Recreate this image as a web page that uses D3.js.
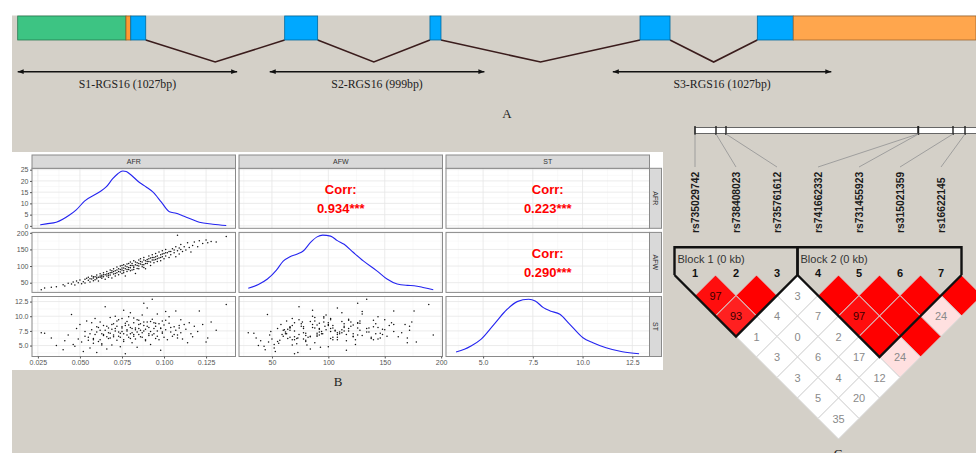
<!DOCTYPE html>
<html>
<head>
<meta charset="utf-8">
<script src="https://cdn.jsdelivr.net/npm/d3@7"></script>
<style>
  body { margin: 0; background: #fff; }
  svg { display: block; font-family: "Liberation Sans", Arial, sans-serif; }
</style>
</head>
<body>
<svg width="976" height="453"></svg>
<script>
// ---- A: gene model (arbitrary 0-1000 coordinate along RGS16) ----
const exonStart = [0, 113, 118, 278.6, 430.2, 649.4, 771.8, 809.3];
const exonEnd   = [113, 118, 133.6, 313, 441.7, 680.7, 809.3, 1000];
const exonKind  = ["utr5", "start", "cds", "cds", "cds", "cds", "cds", "utr3"];

const ampliconNames = ["S1-RGS16 (1027bp)", "S2-RGS16 (999bp)", "S3-RGS16 (1027bp)"];
const ampliconStart = [0, 263, 621];
const ampliconEnd   = [229, 487, 849];

// ---- B: trait data (one value per individual) ----
const traits = ["AFR", "AFW", "ST"];
const afr = [
  0.027,0.029,0.033,0.036,0.040,0.041,0.043,0.045,0.046,0.047,
  0.048,0.049,0.050,0.051,0.052,0.053,0.053,0.054,0.055,0.055,
  0.056,0.057,0.057,0.058,0.058,0.059,0.059,0.060,0.060,0.061,
  0.061,0.062,0.062,0.063,0.063,0.064,0.064,0.065,0.065,0.066,
  0.066,0.067,0.067,0.068,0.068,0.069,0.069,0.070,0.070,0.071,
  0.071,0.072,0.072,0.073,0.073,0.074,0.074,0.075,0.075,0.076,
  0.076,0.077,0.077,0.078,0.078,0.079,0.079,0.080,0.080,0.081,
  0.081,0.082,0.082,0.083,0.083,0.084,0.084,0.085,0.085,0.086,
  0.086,0.087,0.087,0.088,0.088,0.089,0.089,0.090,0.090,0.091,
  0.091,0.092,0.092,0.093,0.093,0.094,0.094,0.095,0.095,0.096,
  0.096,0.097,0.097,0.098,0.098,0.099,0.099,0.100,0.100,0.101,
  0.101,0.102,0.103,0.103,0.104,0.105,0.106,0.107,0.107,0.108,
  0.108,0.109,0.110,0.110,0.111,0.112,0.113,0.114,0.115,0.116,
  0.117,0.118,0.120,0.121,0.123,0.125,0.126,0.128,0.131,0.137,
  0.062,0.064,0.066,0.067,0.068,0.069,0.070,0.071,0.072,0.073,
  0.074,0.075,0.075,0.076,0.076,0.077,0.078,0.078,0.079,0.080,
  0.080,0.081,0.082,0.082,0.083,0.084,0.085,0.085,0.086,0.087,
  0.088,0.088,0.089,0.090,0.091,0.092,0.093,0.094,0.095,0.096,
  0.098,0.099,0.101,0.104,0.106,0.109,0.056,0.058,0.060,0.063
];
const afw = [
  29,34,36,38,44,40,48,46,52,43,
  55,50,58,47,53,60,49,63,57,66,
  52,61,70,56,64,68,59,73,62,66,
  55,70,77,63,72,68,80,60,74,70,
  84,66,78,88,73,81,64,76,92,86,
  70,80,97,84,74,90,100,78,94,86,
  104,92,70,98,84,108,90,95,112,88,
  102,96,116,104,78,110,93,100,118,106,
  122,98,112,126,104,116,92,120,108,130,
  114,102,124,118,134,110,126,138,120,114,
  130,142,124,134,116,128,146,122,138,130,
  150,140,126,144,134,152,140,128,158,146,
  193,136,150,165,144,158,148,170,156,142,
  162,172,158,176,168,178,170,174,172,189,
  66,74,76,72,80,86,84,78,88,92,
  82,88,102,94,80,100,90,106,96,102,
  86,108,100,90,112,102,108,92,114,104,
  118,96,108,114,122,112,126,118,128,122,
  126,136,140,144,148,154,62,68,66,68
];
const st = [
  7.2,7.1,6.3,5.0,4.3,5.8,6.8,10.3,5.2,4.9,
  7.9,6.1,8.6,5.6,4.0,6.6,7.4,9.2,5.9,6.4,
  4.6,7.7,8.9,5.4,6.2,9.6,6.9,3.8,7.3,8.1,
  5.7,6.0,9.0,7.0,5.3,8.4,6.7,7.6,11.6,6.5,
  4.4,8.0,7.2,9.8,6.3,5.1,7.8,8.7,6.8,10.0,
  7.5,5.9,8.3,6.6,9.4,7.1,4.8,8.2,7.4,11.0,
  6.0,8.8,3.6,7.7,9.1,6.4,8.5,7.0,10.6,5.5,
  7.9,9.7,6.9,8.0,6.1,7.3,4.7,8.6,9.3,7.6,
  6.5,10.2,7.2,12.2,8.4,5.8,7.8,9.0,11.4,6.7,
  8.1,7.4,5.2,9.5,12.9,7.0,8.9,6.2,8.3,7.5,
  10.4,8.7,6.0,7.9,4.2,9.2,7.1,8.5,6.4,10.8,
  7.7,6.0,8.8,9.9,7.3,6.6,8.2,7.6,10.9,6.3,
  6.8,8.0,9.4,7.2,6.1,8.6,7.8,5.5,8.9,7.0,
  6.5,8.3,7.4,10.9,8.6,5.6,6.3,9.0,7.6,12.0,
  7.6,6.9,8.3,6.2,7.1,8.6,6.5,7.9,9.2,7.3,
  6.4,8.0,9.6,7.0,5.7,8.4,6.8,7.5,9.9,6.2,
  8.1,7.2,8.9,6.6,7.7,9.4,6.9,7.9,8.7,6.4,
  7.5,9.0,6.0,8.3,7.0,9.1,6.8,7.9,8.8,6.6,
  8.0,7.3,9.3,8.1,6.9,8.4,7.0,6.0,8.2,5.1
];

// density curves on the diagonal
const afrDensX = [0.0264,0.030,0.0359,0.0438,0.0478,0.0527,0.0616,0.0656,0.0695,0.0725,0.0755,0.0775,0.0795,0.0854,0.0894,0.0933,0.0983,0.1032,0.1072,0.111,0.116,0.121,0.129,0.137];
const afrDensY = [0.44,0.9,1.6,4.8,7.1,11,15.1,17.3,21,23.2,24.4,24.2,23.2,19.3,17.3,15.1,10.7,6.3,5.6,4.5,3.1,1.6,0.75,0.13];
const afwDensX = [29,38,46,54,60,66,72,78,84,90,95,102,108,114,122,131,143,152,161,170,176,185,193];
const afwDensY = [0.83,1.53,2.52,4.14,5.76,6.57,7.02,7.65,9.11,10.17,10.49,10.31,9.49,8.82,7.38,5.81,4.01,2.52,1.62,1.37,1.31,0.95,0.59];
const stDensX = [3.64,4.06,4.39,4.89,5.55,6.21,6.71,7.29,7.62,8.03,8.37,8.86,9.36,10.02,10.52,11.18,12.0,12.84];
const stDensY = [0.0217,0.0319,0.0445,0.0699,0.1269,0.1839,0.2128,0.2219,0.2155,0.19,0.1775,0.1649,0.1269,0.076,0.057,0.038,0.0228,0.0152];

const corrRow = [0, 0, 1];
const corrCol = [1, 2, 2];
const corrText = ["0.934***", "0.223***", "0.290***"];

const afrTicks = [0.025, 0.05, 0.075, 0.1, 0.125];
const afwTicks = [50, 100, 150, 200];
const stTicks = [5, 7.5, 10, 12.5];
const densTicks = [0, 5, 10, 15, 20, 25];

// ---- C: LD plot ----
const snpNames = ["rs735029742", "rs738408023", "rs735761612", "rs741662332", "rs731455923", "rs315021359", "rs16622145"];
const snpPos = [0, 210, 310, 2230, 2235, 2580, 2700, 2900];
// D' x 100, by distance between markers (row k = pairs i, i+k+1)
const dprime = [
  [97, 100, 3, 100, 100, 100, 100],
  [93, 4, 7, 97, 100, 24],
  [1, 0, 2, 100, 100],
  [3, 6, 17, 24],
  [3, 4, 12],
  [5, 20],
  [35]
];
const lodHigh = [
  [1, 1, 0, 1, 1, 1, 1],
  [1, 0, 0, 1, 1, 1],
  [0, 0, 0, 1, 1],
  [0, 0, 0, 1],
  [0, 0, 0],
  [0, 0],
  [0]
];
const blockNames = ["Block 1 (0 kb)", "Block 2 (0 kb)"];
const blockFirst = [1, 4];
const blockLast = [3, 7];

const svg = d3.select("svg");
const width = 976, height = 453;
const serif = "'Liberation Serif', 'Times New Roman', serif";

svg.append("rect").attr("width", width).attr("height", height).attr("fill", "#fff");
svg.append("rect")
  .attr("x", 12).attr("y", 15.5)
  .attr("width", width - 12).attr("height", height - 15.5)
  .attr("fill", "#d4d0c8");

// ================= A =================
const gx = d3.scaleLinear().domain([0, 1000]).range([17.7, 976]);
const exonTop = 16, exonBottom = 40, intronDepth = 62, arrowY = 71.7;
const exonFill = { utr5: "#3dc483", start: "#ff9a33", cds: "#00a8ff", utr3: "#ffa64d" };

const defs = svg.append("defs");
defs.append("marker")
  .attr("id", "arr")
  .attr("viewBox", "0 0 10 10")
  .attr("refX", 10).attr("refY", 5)
  .attr("markerWidth", 7).attr("markerHeight", 6)
  .attr("markerUnits", "userSpaceOnUse")
  .attr("orient", "auto-start-reverse")
  .append("path")
  .attr("d", "M0,1 L10,5 L0,9 Z")
  .attr("fill", "#111");

const gene = svg.append("g");

const introns = exonStart.slice(1)
  .map((s, i) => ({ from: exonEnd[i], to: s }))
  .filter(d => d.to > d.from);

gene.selectAll("path.intron")
  .data(introns)
  .enter().append("path")
  .attr("class", "intron")
  .attr("d", d => `M${gx(d.from)},${exonBottom} L${gx((d.from + d.to) / 2)},${intronDepth} L${gx(d.to)},${exonBottom}`)
  .attr("fill", "none")
  .attr("stroke", "#3a1c1c")
  .attr("stroke-width", 1.6);

gene.selectAll("rect.exon")
  .data(exonStart)
  .enter().append("rect")
  .attr("class", "exon")
  .attr("x", d => gx(d))
  .attr("y", exonTop)
  .attr("width", (d, i) => gx(exonEnd[i]) - gx(d))
  .attr("height", exonBottom - exonTop)
  .attr("fill", (d, i) => exonFill[exonKind[i]])
  .attr("stroke", (d, i) => d3.color(exonFill[exonKind[i]]).darker(1.3))
  .attr("stroke-width", 0.8);

gene.selectAll("line.amp")
  .data(ampliconStart)
  .enter().append("line")
  .attr("class", "amp")
  .attr("x1", d => gx(d))
  .attr("x2", (d, i) => gx(ampliconEnd[i]))
  .attr("y1", arrowY).attr("y2", arrowY)
  .attr("stroke", "#111")
  .attr("stroke-width", 1.4)
  .attr("marker-start", "url(#arr)")
  .attr("marker-end", "url(#arr)");

gene.selectAll("text.amp")
  .data(ampliconNames)
  .enter().append("text")
  .attr("class", "amp")
  .attr("x", (d, i) => gx((ampliconStart[i] + ampliconEnd[i]) / 2))
  .attr("y", 87.5)
  .attr("text-anchor", "middle")
  .attr("font-family", serif)
  .attr("font-size", 11.8)
  .attr("fill", "#222")
  .text(d => d);

const panelLetter = (txt, x, y) => svg.append("text")
  .attr("x", x).attr("y", y)
  .attr("text-anchor", "middle")
  .attr("font-family", serif)
  .attr("font-size", 13)
  .attr("fill", "#222")
  .text(txt);

panelLetter("A", 507, 117.5);

// ================= B =================
svg.append("rect")
  .attr("x", 12).attr("y", 152)
  .attr("width", 651).attr("height", 218)
  .attr("fill", "#fff");

const cols = [afr, afw, st];
const colLeft = [32, 239, 446], panelW = 203.5;
const rowTop = [168.3, 232.4, 296.5], panelH = 60;
const expand = ext => { const p = (ext[1] - ext[0]) * 0.05; return [ext[0] - p, ext[1] + p]; };

const xs = cols.map((v, i) => d3.scaleLinear().domain(expand(d3.extent(v))).range([colLeft[i], colLeft[i] + panelW]));
const ys = cols.map((v, i) => d3.scaleLinear().domain(expand(d3.extent(v))).range([rowTop[i] + panelH, rowTop[i]]));
ys[0] = d3.scaleLinear().domain(expand(d3.extent(afrDensY))).range([rowTop[0] + panelH, rowTop[0]]);

const colTicks = [afrTicks, afwTicks, stTicks];
const rowTicks = [densTicks, afwTicks, stTicks];
const colFmt = [d3.format(".3f"), d3.format("d"), d3.format(".1f")];
const rowFmt = [d3.format("d"), d3.format("d"), d3.format(".1f")];

const minors = (ticks, scale) => {
  const step = ticks[1] - ticks[0];
  const dom = scale.domain();
  return [ticks[0] - step / 2, ...ticks.map(t => t + step / 2)]
    .filter(v => v > Math.min(...dom) && v < Math.max(...dom));
};

const pairs = d3.cross([0, 1, 2], [0, 1, 2]);
const grid = svg.append("g");

pairs.forEach(([r, c]) => {
  const g = grid.append("g");
  g.append("rect")
    .attr("x", colLeft[c]).attr("y", rowTop[r])
    .attr("width", panelW).attr("height", panelH)
    .attr("fill", "#fff");
  const xm = minors(colTicks[c], xs[c]);
  const ym = minors(rowTicks[r], ys[r]);
  g.selectAll("line.vmin").data(xm).enter().append("line")
    .attr("x1", d => xs[c](d)).attr("x2", d => xs[c](d))
    .attr("y1", rowTop[r]).attr("y2", rowTop[r] + panelH)
    .attr("stroke", "#f2f2f2").attr("stroke-width", 0.5);
  g.selectAll("line.hmin").data(ym).enter().append("line")
    .attr("y1", d => ys[r](d)).attr("y2", d => ys[r](d))
    .attr("x1", colLeft[c]).attr("x2", colLeft[c] + panelW)
    .attr("stroke", "#f2f2f2").attr("stroke-width", 0.5);
  g.selectAll("line.vmaj").data(colTicks[c]).enter().append("line")
    .attr("x1", d => xs[c](d)).attr("x2", d => xs[c](d))
    .attr("y1", rowTop[r]).attr("y2", rowTop[r] + panelH)
    .attr("stroke", "#e6e6e6").attr("stroke-width", 0.8);
  g.selectAll("line.hmaj").data(rowTicks[r]).enter().append("line")
    .attr("y1", d => ys[r](d)).attr("y2", d => ys[r](d))
    .attr("x1", colLeft[c]).attr("x2", colLeft[c] + panelW)
    .attr("stroke", "#e6e6e6").attr("stroke-width", 0.8);
});

// lower triangle: scatter plots
const scatter = svg.append("g");
pairs.filter(([r, c]) => r > c).forEach(([r, c]) => {
  scatter.append("g").selectAll("circle")
    .data(d3.range(afr.length))
    .enter().append("circle")
    .attr("cx", k => xs[c](cols[c][k]))
    .attr("cy", k => ys[r](cols[r][k]))
    .attr("r", 0.75)
    .attr("fill", "#111");
});

// diagonal: densities
const densX = [afrDensX, afwDensX, stDensX];
const densY = [afrDensY, afwDensY, stDensY];
[0, 1, 2].forEach(i => {
  const yScale = i === 0 ? ys[0]
    : d3.scaleLinear().domain(expand(d3.extent(densY[i]))).range([rowTop[i] + panelH, rowTop[i]]);
  const line = d3.line()
    .x(k => xs[i](densX[i][k]))
    .y(k => yScale(densY[i][k]))
    .curve(d3.curveMonotoneX);
  svg.append("path")
    .attr("d", line(d3.range(densX[i].length)))
    .attr("fill", "none")
    .attr("stroke", "#2424f0")
    .attr("stroke-width", 1.1);
});

// upper triangle: correlations
const corr = svg.append("g")
  .attr("font-weight", "bold")
  .attr("font-size", 13)
  .attr("fill", "#ff0000")
  .attr("text-anchor", "middle");
corrText.forEach((t, i) => {
  const cx = colLeft[corrCol[i]] + panelW / 2;
  const cy = rowTop[corrRow[i]] + panelH / 2;
  corr.append("text").attr("x", cx).attr("y", cy - 4).text("Corr:");
  corr.append("text").attr("x", cx).attr("y", cy + 14.3).text(t);
});

// panel borders
svg.append("g").selectAll("rect")
  .data(pairs)
  .enter().append("rect")
  .attr("x", d => colLeft[d[1]]).attr("y", d => rowTop[d[0]])
  .attr("width", panelW).attr("height", panelH)
  .attr("fill", "none")
  .attr("stroke", "#8a8a8a")
  .attr("stroke-width", 1);

// strips
const strips = svg.append("g").attr("font-size", 7).attr("fill", "#333");
traits.forEach((t, i) => {
  strips.append("rect")
    .attr("x", colLeft[i]).attr("y", 155)
    .attr("width", panelW).attr("height", rowTop[0] - 155)
    .attr("fill", "#d9d9d9").attr("stroke", "#8a8a8a").attr("stroke-width", 1);
  strips.append("text")
    .attr("x", colLeft[i] + panelW / 2).attr("y", 164.2)
    .attr("text-anchor", "middle")
    .attr("fill", "#333")
    .text(t);
  strips.append("rect")
    .attr("x", colLeft[2] + panelW).attr("y", rowTop[i])
    .attr("width", 12).attr("height", panelH)
    .attr("fill", "#d9d9d9").attr("stroke", "#8a8a8a").attr("stroke-width", 1);
  strips.append("text")
    .attr("transform", `translate(${colLeft[2] + panelW + 6},${rowTop[i] + panelH / 2}) rotate(90)`)
    .attr("text-anchor", "middle")
    .attr("dy", "0.35em")
    .attr("fill", "#333")
    .text(t);
});

// axes
const styleAxis = g => {
  g.select(".domain").remove();
  g.selectAll(".tick line").attr("stroke", "#555");
  g.selectAll(".tick text").attr("fill", "#555").attr("font-size", 7).attr("font-family", "'Liberation Sans', Arial, sans-serif");
};
[0, 1, 2].forEach(i => {
  svg.append("g")
    .attr("transform", `translate(${colLeft[0]},0)`)
    .call(d3.axisLeft(ys[i]).tickValues(rowTicks[i]).tickFormat(rowFmt[i]).tickSize(2).tickPadding(1.5))
    .call(styleAxis);
  svg.append("g")
    .attr("transform", `translate(0,${rowTop[2] + panelH})`)
    .call(d3.axisBottom(xs[i]).tickValues(colTicks[i]).tickFormat(colFmt[i]).tickSize(2).tickPadding(1.5))
    .call(styleAxis);
});

panelLetter("B", 338, 386);

// ================= C =================
const mx = d3.scaleLinear().domain([1, 8]).range([695, 982]);
const px = d3.scaleLinear().domain([0, 2900]).range([695, 985]);
const half = (mx(2) - mx(1)) / 2;
const ldTop = 275;
const ld = svg.append("g");

ld.append("rect")
  .attr("x", px(0)).attr("y", 127.5)
  .attr("width", px(3100) - px(0)).attr("height", 6)
  .attr("fill", "#fff")
  .attr("stroke", "#666")
  .attr("stroke-width", 1);

ld.selectAll("line.tick")
  .data(snpPos)
  .enter().append("line")
  .attr("class", "tick")
  .attr("x1", d => px(d)).attr("x2", d => px(d))
  .attr("y1", 126).attr("y2", 135)
  .attr("stroke", "#222")
  .attr("stroke-width", 1.4);

ld.selectAll("line.link")
  .data(snpNames)
  .enter().append("line")
  .attr("class", "link")
  .attr("x1", (d, i) => px(snpPos[i])).attr("y1", 134)
  .attr("x2", (d, i) => mx(i + 1)).attr("y2", 167)
  .attr("stroke", "#999")
  .attr("stroke-width", 0.9);

ld.selectAll("text.snp")
  .data(snpNames)
  .enter().append("text")
  .attr("class", "snp")
  .attr("transform", (d, i) => `translate(${mx(i + 1) + 3.7},233) rotate(-90)`)
  .attr("font-size", 10.3)
  .attr("font-weight", "bold")
  .attr("fill", "#1a1a1a")
  .text(d => d);

const cells = [];
dprime.forEach((row, k) => row.forEach((v, i) => cells.push({ a: i + 1, b: i + 2 + k, v, strong: lodHigh[k][i] })));

const ldColor = d3.scalePow().exponent(2).domain([0, 100]).range(["#ffeeee", "#ff0000"]);

ld.selectAll("path.cell")
  .data(cells)
  .enter().append("path")
  .attr("class", "cell")
  .attr("d", d => {
    const cx = (mx(d.a) + mx(d.b)) / 2;
    const cy = ldTop + (d.b - d.a) * half;
    return `M${cx},${cy - half} L${cx + half},${cy} L${cx},${cy + half} L${cx - half},${cy} Z`;
  })
  .attr("fill", d => d.strong ? ldColor(d.v) : "#fff")
  .attr("stroke", "#d6d6d6")
  .attr("stroke-width", 1);

ld.selectAll("text.cell")
  .data(cells.filter(d => d.v < 100))
  .enter().append("text")
  .attr("class", "cell")
  .attr("x", d => (mx(d.a) + mx(d.b)) / 2)
  .attr("y", d => ldTop + (d.b - d.a) * half + 4)
  .attr("text-anchor", "middle")
  .attr("font-size", 11)
  .attr("fill", d => d.strong && d.v > 50 ? "#3a0000" : "#8a8a8a")
  .text(d => d.v);

ld.selectAll("text.num")
  .data(d3.range(1, 8))
  .enter().append("text")
  .attr("class", "num")
  .attr("x", d => mx(d))
  .attr("y", 277)
  .attr("text-anchor", "middle")
  .attr("font-size", 11)
  .attr("font-weight", "bold")
  .attr("fill", "#111")
  .text(d => d);

blockNames.forEach((name, i) => {
  const x0 = mx(blockFirst[i]) - half;
  const x1 = mx(blockLast[i]) + half;
  const apexX = (mx(blockFirst[i]) + mx(blockLast[i])) / 2;
  const apexY = ldTop + (blockLast[i] - blockFirst[i] + 1) * half;
  ld.append("path")
    .attr("d", `M${x0},${ldTop} V247.3 H${x1} V${ldTop} M${x0},${ldTop} L${apexX},${apexY} L${x1},${ldTop}`)
    .attr("fill", "none")
    .attr("stroke", "#111")
    .attr("stroke-width", 2.4)
    .attr("stroke-linejoin", "miter");
  ld.append("text")
    .attr("x", x0 + 3).attr("y", 263)
    .attr("font-size", 11)
    .attr("fill", "#333")
    .text(name);
});

panelLetter("C", 838, 458);
</script>
</body>
</html>
